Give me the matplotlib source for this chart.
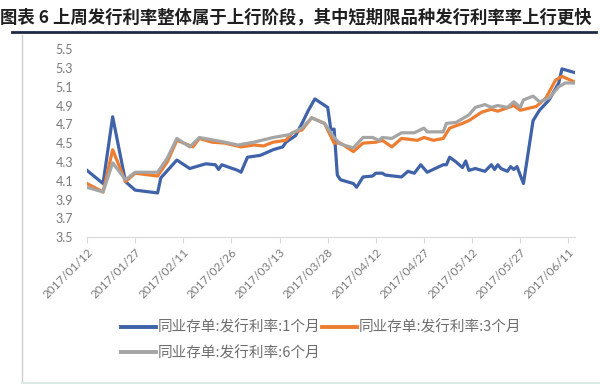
import matplotlib
matplotlib.use('Agg')
import matplotlib.pyplot as plt
import pandas as pd
from matplotlib.lines import Line2D

plt.rcParams['font.family'] = ['Lato', 'Noto Sans CJK SC', 'DejaVu Sans']

start = pd.Timestamp('2017-01-12')

# days after 2017/01/12
blue_days = [0, 5, 8, 12, 15, 22, 23, 28, 32, 37, 40, 41, 42, 47, 48, 50, 54, 58, 61, 62,
             65, 67, 69, 71, 75, 76, 77, 78, 79, 83, 84, 86, 89, 90, 92, 93, 98, 100, 102, 104,
             106, 111, 112, 113, 115, 117, 118, 119, 121, 124, 126, 127, 128, 129, 131, 132,
             133, 134, 136, 139, 141, 144, 147, 148, 152]
blue_vals = [4.21, 4.07, 4.78, 4.09, 4.00, 3.97, 4.13, 4.32, 4.23, 4.28, 4.27, 4.22, 4.27, 4.21,
             4.19, 4.35, 4.37, 4.43, 4.46, 4.51, 4.58, 4.71, 4.85, 4.97, 4.88, 4.64, 4.65, 4.16,
             4.11, 4.07, 4.03, 4.14, 4.15, 4.18, 4.18, 4.16, 4.14, 4.20, 4.18, 4.27, 4.19, 4.27,
             4.27, 4.35, 4.30, 4.24, 4.31, 4.21, 4.23, 4.20, 4.27, 4.22, 4.27, 4.23, 4.20, 4.25,
             4.22, 4.25, 4.07, 4.74, 4.85, 4.96, 5.14, 5.29, 5.25]

orange_days = [0, 5, 8, 12, 15, 22, 25, 28, 33, 35, 39, 43, 48, 52, 55, 58, 62, 64, 67, 70,
               74, 77, 79, 83, 86, 90, 92, 95, 98, 103, 105, 108, 111, 113, 117, 119, 123, 126,
               128, 133, 135, 140, 143, 146, 148, 152]
orange_vals = [4.07, 3.98, 4.43, 4.09, 4.18, 4.15, 4.30, 4.53, 4.46, 4.55, 4.51, 4.50, 4.46,
               4.48, 4.47, 4.51, 4.53, 4.61, 4.64, 4.77, 4.71, 4.50, 4.50, 4.41, 4.50, 4.51,
               4.53, 4.46, 4.55, 4.53, 4.56, 4.53, 4.55, 4.66, 4.71, 4.74, 4.83, 4.86, 4.84,
               4.90, 4.85, 4.89, 4.98, 5.17, 5.21, 5.15]

gray_days = [0, 5, 8, 12, 15, 22, 25, 28, 32, 35, 43, 47, 52, 58, 63, 67, 70, 74, 77, 79, 83,
             86, 89, 91, 92, 95, 98, 102, 105, 106, 111, 112, 115, 119, 121, 124, 126, 128, 131,
             133, 135, 136, 139, 141, 144, 147, 149, 152]
gray_vals = [4.03, 3.98, 4.29, 4.11, 4.19, 4.19, 4.34, 4.55, 4.46, 4.56, 4.51, 4.48, 4.51, 4.56,
             4.59, 4.66, 4.77, 4.71, 4.56, 4.49, 4.45, 4.56, 4.56, 4.53, 4.56, 4.55, 4.61, 4.61,
             4.66, 4.62, 4.62, 4.71, 4.72, 4.80, 4.88, 4.91, 4.88, 4.90, 4.88, 4.94, 4.88, 4.96,
             5.00, 4.94, 4.98, 5.10, 5.14, 5.14]

names = ['同业存单:发行利率:1个月', '同业存单:发行利率:3个月', '同业存单:发行利率:6个月']
colors = ['#3F62A8', '#ED7D31', '#A5A5A5']

tick_days = list(range(0, 151, 15))
yticks = [3.5, 3.7, 3.9, 4.1, 4.3, 4.5, 4.7, 4.9, 5.1, 5.3, 5.5]
title = '图表 6 上周发行利率整体属于上行阶段，其中短期限品种发行利率率上行更快'


def to_dates(days):
    return [start + pd.Timedelta(days=d) for d in days]


fig = plt.figure(figsize=(6, 3.9), dpi=100)
ax = fig.add_axes([0.145, 0.392, 0.813, 0.482])

series = [(blue_days, blue_vals), (orange_days, orange_vals), (gray_days, gray_vals)]
for (d, v), name, c in zip(series, names, colors):
    ax.plot(to_dates(d), v, color=c, lw=2.3, label=name, solid_joinstyle='round')

ax.set_ylim(3.5, 5.5)
ax.set_xlim(start, start + pd.Timedelta(days=152))
ax.set_yticks(yticks)
ax.set_yticklabels([f'{y:.1f}' for y in yticks])
tick_dates = to_dates(tick_days)
ax.set_xticks(tick_dates)
ax.set_xticklabels([t.strftime('%Y/%m/%d') for t in tick_dates], rotation=45, ha='right',
                   rotation_mode='anchor')
for s in ['top', 'right', 'left']:
    ax.spines[s].set_visible(False)
ax.spines['bottom'].set_color('#D9D9D9')
ax.tick_params(axis='y', length=0, pad=10, labelsize=9, labelcolor='#7A7A7A')
ax.tick_params(axis='x', length=4, color='#D9D9D9', pad=3, labelsize=8.5, labelcolor='#7A7A7A')

# legend fills column-wise, so order gives rows: 1M 3M / 6M
order = [0, 2, 1]
handles = [Line2D([], [], color=colors[i], lw=2.8) for i in order]
fig.legend(handles, [names[i] for i in order], loc='upper left',
           bbox_to_anchor=(0.19, 0.197), ncol=2, frameon=False, handlelength=2.4,
           handletextpad=0.1, columnspacing=0.1, labelspacing=0.75, borderpad=0,
           prop={'family': ['Noto Sans CJK SC'], 'size': 10.5}, labelcolor='#6E6E6E')

fig.text(0.0, 0.955, title, fontsize=12.5, fontweight='bold', color='#1F1F1F',
         family=['Noto Sans CJK SC'], va='center', ha='left')
fig.add_artist(Line2D([0.02, 0.993], [0.917, 0.917], color='#1F2A44', lw=2))
fig.add_artist(Line2D([0.037, 0.037], [0.02, 0.91], color='#CFCFCF', lw=1))
fig.add_artist(Line2D([0.037, 1.0], [0.018, 0.018], color='#DCEBE6', lw=1.5))

fig.savefig('out.png', dpi=100)
